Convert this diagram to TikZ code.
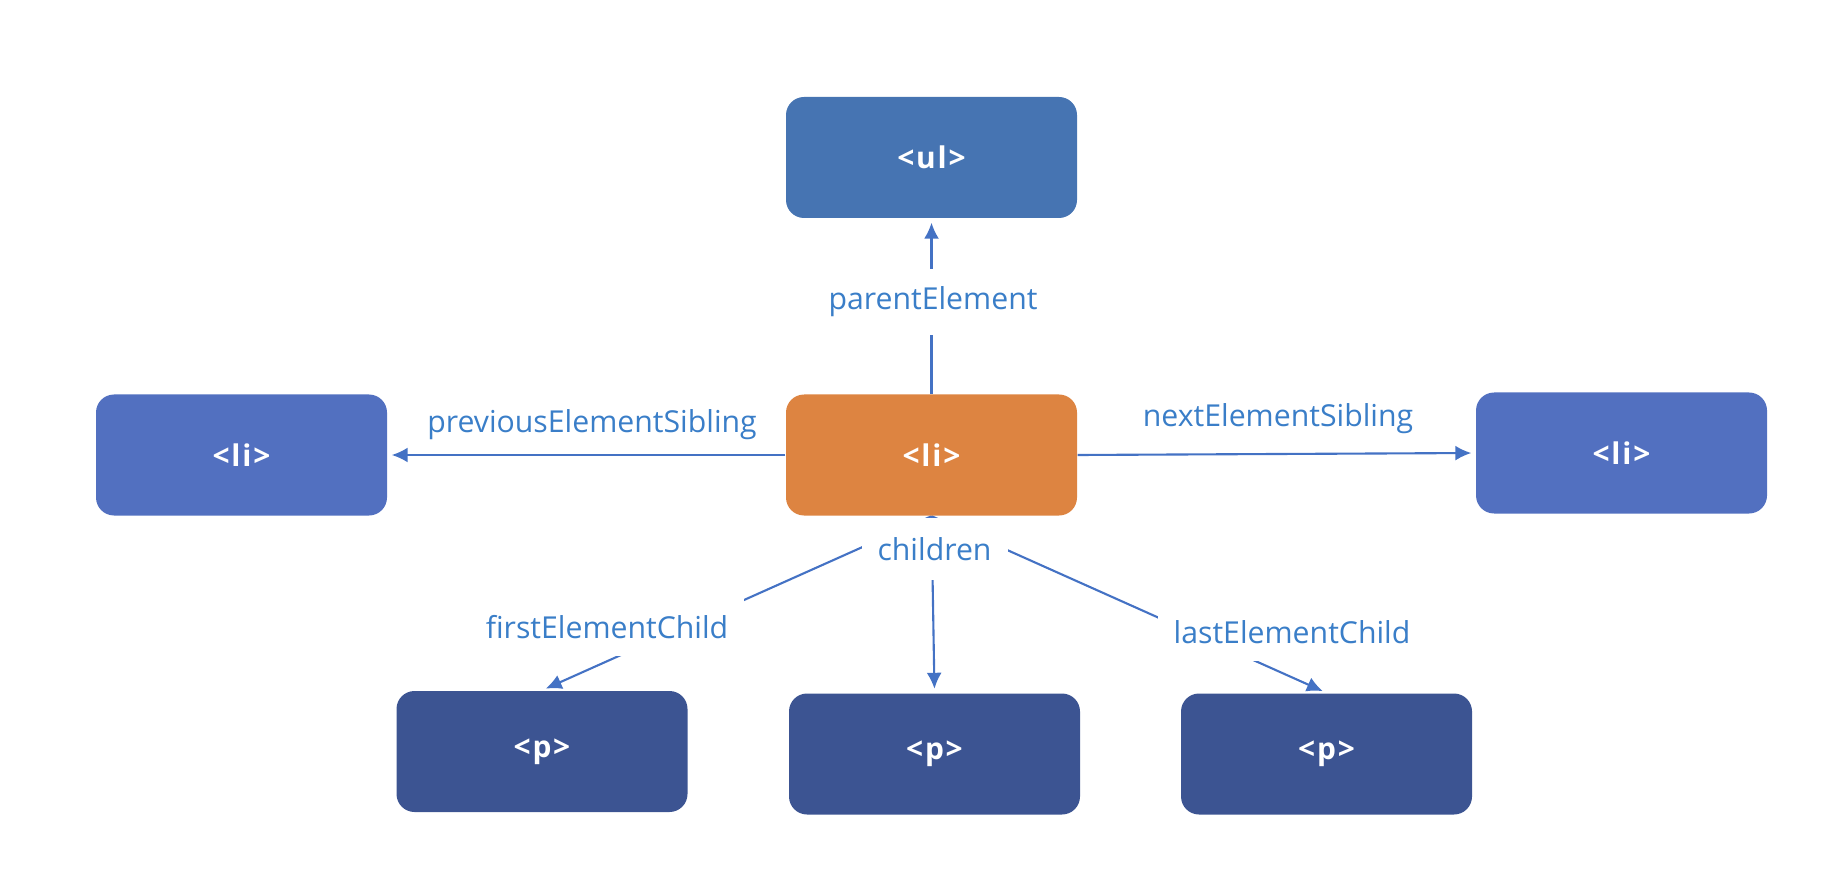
\documentclass[tikz,border=0pt]{standalone}
\usepackage{fontspec}
\setmainfont{Open Sans}
\newfontfamily\tagfont[LetterSpace=6]{Open Sans}
\usepackage{tikz}
\usetikzlibrary{%
    arrows.meta,%
    backgrounds%
}
\definecolor{linkblue}{RGB}{68,114,196}
\definecolor{labelblue}{RGB}{58,126,200}
\definecolor{ulblue}{RGB}{70,116,178}
\definecolor{liorange}{RGB}{221,132,65}
\definecolor{siblue}{RGB}{82,112,192}
\definecolor{pblue}{RGB}{60,84,146}

\begin{document}
\begin{tikzpicture}[
  elem/.style={rounded corners=1.8mm,minimum width=2.91cm,
    minimum height=1.21cm,inner sep=0pt,text=white,
    font={\tagfont\fontsize{8.5}{10}\selectfont\bfseries}},
  rel/.style={text=labelblue,anchor=base,
    inner xsep=1.6mm,inner ysep=1.8mm,
    font={\fontsize{8.6}{10}\selectfont}},
  % labels that sit on a link hide it with a white box
  cut/.style={rel,fill=white},
  link/.style={draw=linkblue,line width=0.6pt,
    -{Latex[length=1.6mm,width=1.5mm]},shorten >=0.4mm},
  ]
  \useasboundingbox (0,0) rectangle (18.4,8.86);
  % Elements
  \node[elem,fill=ulblue]   (ul)     at (9.315,7.285) {<ul>};
  \node[elem,fill=liorange] (li)     at (9.315,4.31)  {<li>};
  \node[elem,fill=siblue]   (prevli) at (2.415,4.31)  {<li>};
  \node[elem,fill=siblue]   (nextli) at (16.215,4.33) {<li>};
  \node[elem,fill=pblue]    (p1)     at (5.42,1.345)  {<p>};
  \node[elem,fill=pblue]    (p2)     at (9.345,1.32)  {<p>};
  \node[elem,fill=pblue]    (p3)     at (13.265,1.32) {<p>};
  % Relation labels
  \node[cut] (parent)   at (9.33,5.76)  {parentElement};
  \node[rel] (previous) at (5.92,4.54)  {previousElementSibling};
  \node[rel] (next)     at (12.78,4.59) {nextElementSibling};
  \node[cut,inner ysep=1.95mm] (children) at (9.345,3.26) {children};
  \node[cut] (first)    at (6.07,2.48)  {firstElementChild};
  \node[cut] (last)     at (12.92,2.43) {lastElementChild};
  % Links, under the labels
  \begin{pgfonlayer}{background}
    \draw[link] (li.north) -- (ul.south);
    \draw[link] (li.west) -- (prevli.east);
    \draw[link] (li.east) -- (nextli.west);
    \draw[link] (li.south) -- (p1.north);
    \draw[link] (li.south) -- (p2.north);
    \draw[link] (li.south) -- (p3.north);
  \end{pgfonlayer}
\end{tikzpicture}
\end{document}
